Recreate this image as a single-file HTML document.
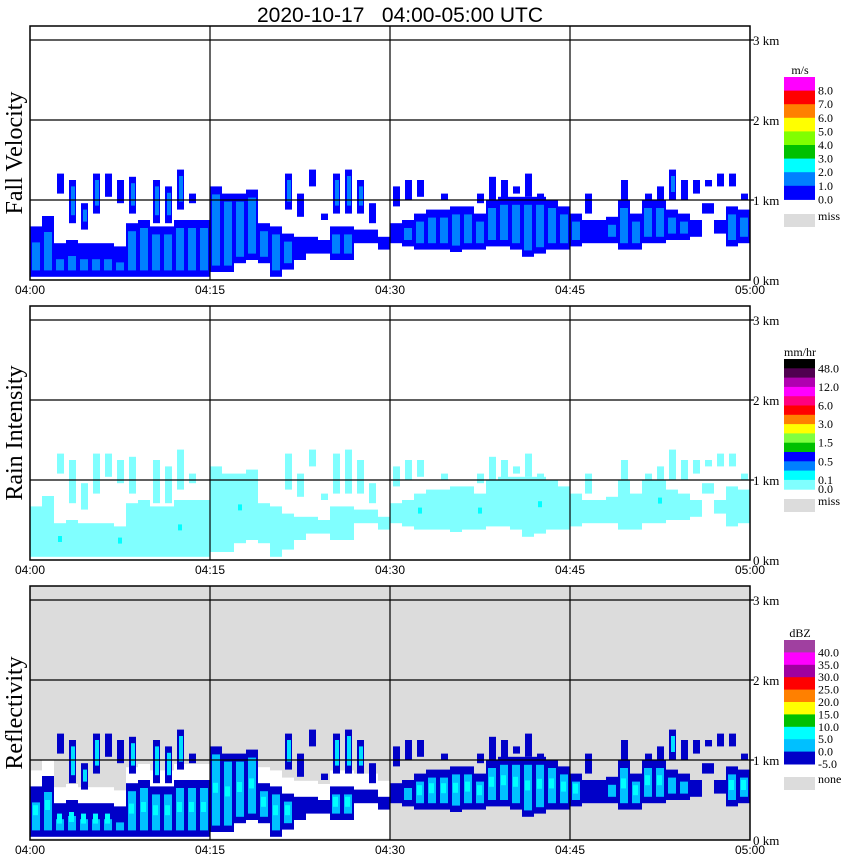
<!DOCTYPE html>
<html><head><meta charset="utf-8"><style>
body{margin:0;background:#fff;width:850px;height:868px;overflow:hidden}
svg{display:block}
</style></head><body>
<svg id="chart" width="850" height="868" xmlns="http://www.w3.org/2000/svg">
<text x="400" y="22" text-anchor="middle" font-family="Liberation Sans, sans-serif" font-size="21" fill="#000" style="white-space:pre">2020-10-17   04:00-05:00 UTC</text>
</svg>
<script>
// data: per-minute (0..59) layer heights in km
const minutes = Array.from({length:60},(_,i)=>i);
const mainTop = [0.67,0.8,0.46,0.5,0.46,0.46,0.46,0.42,0.71,0.75,0.67,0.67,0.75,0.75,0.75,1.17,1.08,1.08,1.13,0.71,0.67,0.58,0.54,0.54,0.5,0.67,0.67,0.63,0.63,0.54,
 0.71,0.75,0.83,0.88,0.88,0.92,0.92,0.83,1.0,1.04,1.04,1.04,1.04,1.0,0.92,0.83,0.75,0.75,0.79,1.0,0.83,1.0,1.0,0.88,0.83,0.75,0.96,0.75,0.92,0.88];
const mainBase = [0.04,0.04,0.04,0.04,0.04,0.04,0.04,0.04,0.04,0.04,0.04,0.04,0.04,0.04,0.04,0.1,0.1,0.21,0.25,0.21,0.04,0.13,0.25,0.33,0.33,0.25,0.25,0.46,0.46,0.38,
 0.46,0.42,0.38,0.38,0.38,0.35,0.38,0.38,0.42,0.42,0.38,0.29,0.33,0.38,0.38,0.42,0.46,0.46,0.46,0.38,0.38,0.46,0.46,0.5,0.5,0.54,0.83,0.58,0.42,0.46];
const upTop = [0,0,1.33,1.25,0.96,1.33,1.33,1.25,1.29,0,1.25,1.17,1.38,1.08,0,0,0,0,0,0,0,1.33,1.08,1.38,0.83,1.33,1.38,1.25,0.96,0,
 1.17,1.25,1.25,0,1.08,0,0,1.08,1.29,1.25,1.17,1.33,1.08,0,0,0,1.08,0,0,1.25,0,1.08,1.17,1.38,1.25,1.25,1.25,1.33,1.33,1.08];
const upBase = [0,0,1.08,0.71,0.63,0.83,1.04,0.96,0.83,0,0.71,0.71,0.88,0.96,0,0,0,0,0,0,0,0.88,0.79,1.17,0.75,0.83,0.83,0.83,0.71,0,
 0.92,1.0,1.04,0,1.0,0,0,0.96,1.0,1.0,1.08,1.04,1.0,0,0,0,0.83,0,0,1.0,0,1.0,1.0,1.0,1.0,1.08,1.17,1.17,1.17,1.0];
const timeLabels = ["04:00","04:15","04:30","04:45","05:00"];
const kmLabels = ["0 km","1 km","2 km","3 km"];
const fvLegend = [["#ff00ff","8.0"],["#ff0000","7.0"],["#ff8000","6.0"],["#ffff00","5.0"],["#80ff00","4.0"],["#00c000","3.0"],["#00ffff","2.0"],["#0080ff","1.0"],["#0000ff","0.0"]];
const riColors = ["#000000","#500050","#b000b0","#ff00ff","#ff0080","#ff0000","#ff8000","#ffff00","#80ff40","#00c000","#0000ff","#0080ff","#00ffff","#80ffff"];
const riLabels = ["48.0","","12.0","","6.0","","3.0","","1.5","","0.5","","0.1","0.0"];
const dbzLegend = [["#a040a0","40.0"],["#ff00ff","35.0"],["#a000a0","30.0"],["#ff0000","25.0"],["#ff8000","20.0"],["#ffff00","15.0"],["#00c000","10.0"],["#00ffff","5.0"],["#00c0ff","0.0"],["#0000c8","-5.0"]];

const svg = document.getElementById('chart');
const NS = "http://www.w3.org/2000/svg";
function mk(tag, attrs){const e=document.createElementNS(NS,tag);for(const k in attrs)e.setAttribute(k,attrs[k]);svg.appendChild(e);return e;}
const X0=30, X1=750;
const xOf = m => X0 + (X1-X0)*m/60;
const panels = [{top:26,zero:280,name:"Fall Velocity",bg:"#fff"},{top:306,zero:560,name:"Rain Intensity",bg:"#fff"},{top:586,zero:840,name:"Reflectivity",bg:"#dcdcdc"}];
panels.forEach((p,pi)=>{
  const yOf = km => p.zero - 80*km;
  const bg = mk('rect',{x:X0,y:p.top,width:X1-X0,height:p.zero-p.top,fill:p.bg});
  
  
  minutes.forEach(m=>{
    const x=xOf(m), w=12;
    const t=mainTop[m], b=mainBase[m];
    let cols;
    if(pi===0) cols=["#0000ff","#0080ff"];
    else if(pi===1) cols=["#80ffff","#80ffff"];
    else cols=["#0000c8","#00c0ff"];
    if(pi===2 && m<30){
      const wt=Math.min(t+0.2,1.0);
      const wr=mk('rect',{x:x,y:yOf(wt),width:w,height:yOf(0.02)-yOf(wt),fill:"#fff"});
      
      
    }
    const r=mk('rect',{x:x,y:yOf(t),width:w,height:yOf(b)-yOf(t),fill:cols[0]});
    
    
    const inset = (pi!==1 && m<8) ? 0.2 : 0.1;
    if(t-b>0.3){
      const r2=mk('rect',{x:x+2,y:yOf(t-inset),width:w-4,height:yOf(b+0.08)-yOf(t-inset),fill:cols[1]});
      
      
      if(pi===1 && m%5===2){
        const c=mk('rect',{x:x+4,y:yOf((t+b)/2+0.05),width:4,height:6,fill:"#00ffff"});
        
        
      }
      if(pi===2 && t-b>0.4){
        const c=mk('rect',{x:x+3,y:yOf((t+b)/2+0.08),width:5,height:10,fill:"#00ffff"});
        
        
      }
    }
    if(upTop[m]>0){
      const u=mk('rect',{x:x+3,y:yOf(upTop[m]),width:7,height:yOf(upBase[m])-yOf(upTop[m]),fill:pi===1?"#80ffff":cols[0]});
      
      
      if(pi!==1 && upTop[m]-upBase[m]>0.3){
        const u2=mk('rect',{x:x+5,y:yOf(upTop[m]-0.08),width:4,height:yOf(upBase[m]+0.1)-yOf(upTop[m]-0.08),fill:pi===2?"#00e0ff":cols[1]});
        
        
      }
    }
  });
  [1,2,3].forEach(k=>{
    const l=mk('line',{x1:X0,x2:X1+4,y1:yOf(k),y2:yOf(k),stroke:"#000","stroke-width":1.2});
    
    
  });
  [15,30,45].forEach(m=>{
    const l=mk('line',{x1:xOf(m),x2:xOf(m),y1:p.top,y2:p.zero,stroke:"#000","stroke-width":1.2});
    
    
  });
  const fr=mk('rect',{x:X0,y:p.top,width:X1-X0,height:p.zero-p.top,fill:"none",stroke:"#000","stroke-width":1.5});
  
  
  kmLabels.forEach((s,k)=>{
    const t=mk('text',{x:753,y:yOf(k)+5,"font-family":"Liberation Serif, serif","font-size":13});
    t.textContent=s;
    
    
  });
  timeLabels.forEach((s,k)=>{
    const t=mk('text',{x:xOf(k*15),y:p.zero+14,"text-anchor":"middle","font-family":"Liberation Sans, sans-serif","font-size":12});
    t.textContent=s;
    
    
  });
  const yt=mk('text',{x:0,y:0,transform:`translate(22,${(p.top+p.zero)/2}) rotate(-90)`,"text-anchor":"middle","font-family":"Liberation Serif, serif","font-size":24});
  yt.textContent=p.name;
  
  
});
function legend(top,bh,items,unit,miss,missY){
  const u=mk('text',{x:800,y:top-3,"text-anchor":"middle","font-family":"Liberation Serif, serif","font-size":12});
  u.textContent=unit;
  
  
  items.forEach((it,i)=>{
    const r=mk('rect',{x:784,y:top+i*bh,width:31,height:bh+0.5,fill:it[0]});
    
    
    if(it[1]){
      const t=mk('text',{x:818,y:top+(i+1)*bh+4,"font-family":"Liberation Serif, serif","font-size":12});
      t.textContent=it[1];
      
      
    }
  });
  const m=mk('rect',{x:784,y:missY,width:31,height:13,fill:"#dcdcdc"});
  
  
  const mt=mk('text',{x:818,y:missY+6,"font-family":"Liberation Serif, serif","font-size":12});
  mt.textContent=miss;
  
  
}
legend(77,13.6,fvLegend,"m/s","miss",214);
legend(359,9.3,riColors.map((c,i)=>[c,riLabels[i]]),"mm/hr","miss",499);
legend(640,12.4,dbzLegend,"dBZ","none",777);
</script>
</body></html>
